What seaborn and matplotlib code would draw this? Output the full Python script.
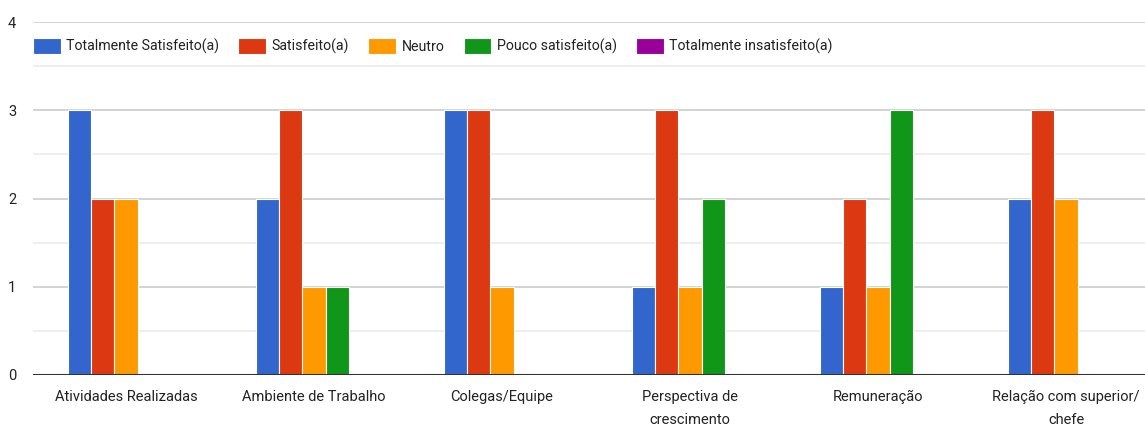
import pandas as pd
import seaborn as sns
import matplotlib.pyplot as plt
from matplotlib.ticker import MultipleLocator

categories = ['Atividades Realizadas', 'Ambiente de Trabalho', 'Colegas/Equipe',
              'Perspectiva de\ncrescimento', 'Remuneração', 'Relação com superior/\nchefe']
series = ['Totalmente Satisfeito(a)', 'Satisfeito(a)', 'Neutro',
          'Pouco satisfeito(a)', 'Totalmente insatisfeito(a)']
totalmente_satisfeito = [3, 2, 3, 1, 1, 2]
satisfeito = [2, 3, 3, 3, 2, 3]
neutro = [2, 1, 1, 1, 1, 2]
pouco_satisfeito = [0, 1, 0, 2, 3, 0]
totalmente_insatisfeito = [0, 0, 0, 0, 0, 0]
colors = ['#3366cc', '#dc3912', '#ff9900', '#109618', '#990099']

values = [totalmente_satisfeito, satisfeito, neutro, pouco_satisfeito, totalmente_insatisfeito]
rows = []
for s, vals in zip(series, values):
    for c, v in zip(categories, vals):
        rows.append({'categoria': c, 'resposta': s, 'valor': v})
df = pd.DataFrame(rows)

sns.set_style('white')
plt.rcParams['font.family'] = ['Roboto', 'DejaVu Sans']

fig = plt.figure(figsize=(11.45, 4.37), dpi=100)
ax = fig.add_axes([33 / 1145, 1 - 375 / 437, 1 - 33 / 1145, 353 / 437])

sns.barplot(data=df, x='categoria', y='valor', hue='resposta', hue_order=series,
            order=categories, palette=colors, width=0.62, ax=ax,
            edgecolor='white', linewidth=0.8, saturation=1, legend=True)

ax.set_ylim(0, 4)
ax.set_xlim(-0.495, 5.42)
ax.yaxis.set_major_locator(MultipleLocator(1))
ax.yaxis.set_minor_locator(MultipleLocator(0.5))
ax.grid(axis='y', which='major', color='#cccccc', linewidth=1.2)
ax.grid(axis='y', which='minor', color='#ebebeb', linewidth=1.2)
ax.set_axisbelow(True)
ax.axhline(0, color='#333333', linewidth=1.5, zorder=5)
for sp in ax.spines.values():
    sp.set_visible(False)
ax.set_xlabel('')
ax.set_ylabel('')
ax.set_xticks(range(len(categories)))
ax.set_xticklabels(categories, linespacing=1.75)
ax.tick_params(axis='both', length=0, labelsize=10.5, colors='#222222')
ax.tick_params(axis='y', pad=12)
ax.tick_params(axis='x', pad=11)

leg = ax.legend(loc='center left', bbox_to_anchor=(0, 0.932), ncol=5, frameon=False,
                fontsize=10.2, handlelength=1.95, handleheight=1.4, handletextpad=0.4,
                columnspacing=1.35, borderaxespad=0, borderpad=0)
for t in leg.get_texts():
    t.set_color('#222222')

fig.savefig('out.png', dpi=100)
